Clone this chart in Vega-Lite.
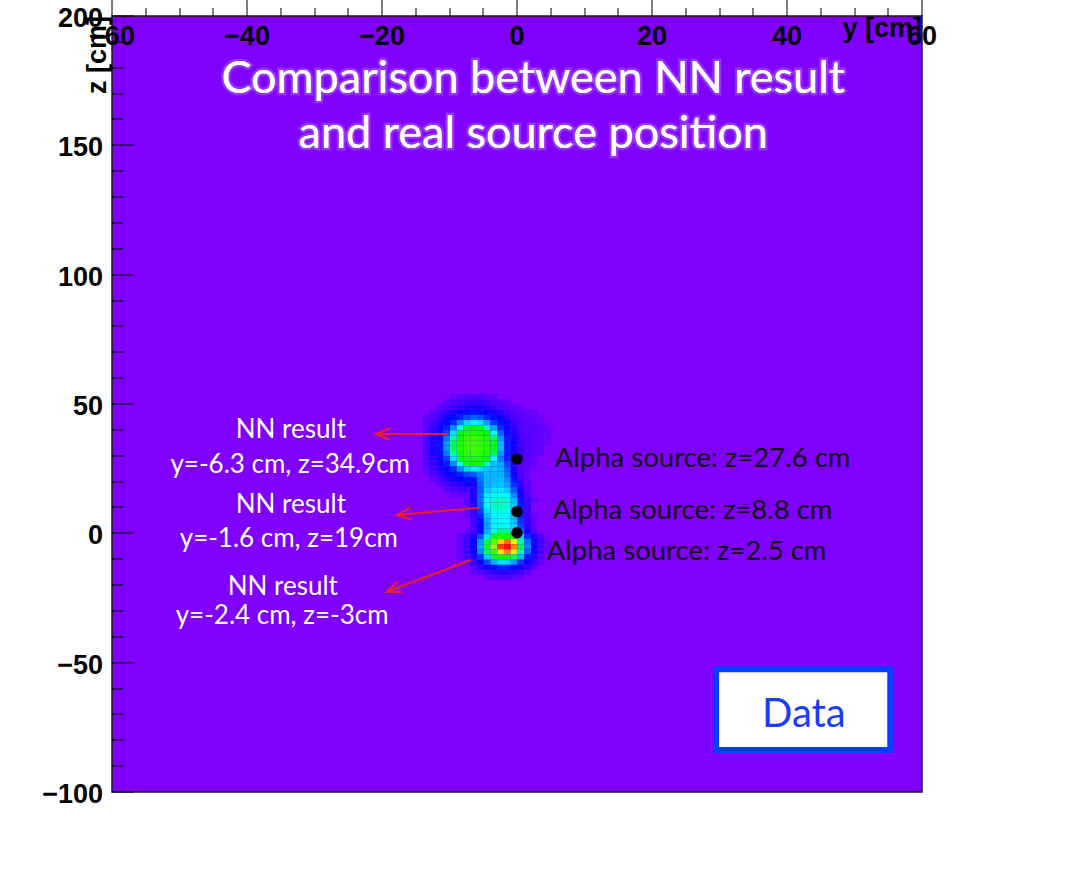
{
  "$schema": "https://vega.github.io/schema/vega-lite/v6.json",
  "width": 810,
  "height": 776,
  "autosize": {"type": "none"},
  "padding": {"left": 112, "top": 16, "right": 154, "bottom": 79},
  "background": "white",
  "config": {
    "view": {"fill": "#7f00ff", "stroke": "#1a1a1a", "strokeWidth": 1.5}
  },
  "resolve": {"axis": {"x": "independent", "y": "independent"}},
  "datasets": {
    "cells": [
      {"y":-10,"z":52,"n":130},{"y":-9,"z":52,"n":165},{"y":-8,"z":52,"n":190},{"y":-7,"z":52,"n":200},{"y":-6,"z":52,"n":195},{"y":-5,"z":52,"n":170},{"y":-4,"z":52,"n":140},
      {"y":-11,"z":50,"n":166},{"y":-10,"z":50,"n":220},{"y":-9,"z":50,"n":269},{"y":-8,"z":50,"n":323},{"y":-7,"z":50,"n":343},{"y":-6,"z":50,"n":330},{"y":-5,"z":50,"n":282},{"y":-4,"z":50,"n":229},{"y":-3,"z":50,"n":178},{"y":-2,"z":50,"n":114},
      {"y":-12,"z":48,"n":175},{"y":-11,"z":48,"n":245},{"y":-10,"z":48,"n":354},{"y":-9,"z":48,"n":440},{"y":-8,"z":48,"n":495},{"y":-7,"z":48,"n":515},{"y":-6,"z":48,"n":500},{"y":-5,"z":48,"n":453},{"y":-4,"z":48,"n":373},{"y":-3,"z":48,"n":260},{"y":-2,"z":48,"n":190},{"y":-1,"z":48,"n":130},{"y":0,"z":48,"n":115},
      {"y":-13,"z":46,"n":157},{"y":-12,"z":46,"n":243},{"y":-11,"z":46,"n":382},{"y":-10,"z":46,"n":504},{"y":-9,"z":46,"n":598},{"y":-8,"z":46,"n":660},{"y":-7,"z":46,"n":686},{"y":-6,"z":46,"n":669},{"y":-5,"z":46,"n":610},{"y":-4,"z":46,"n":525},{"y":-3,"z":46,"n":410},{"y":-2,"z":46,"n":263},{"y":-1,"z":46,"n":190},{"y":0,"z":46,"n":160},{"y":1,"z":46,"n":140},{"y":2,"z":46,"n":115},
      {"y":-14,"z":44,"n":117},{"y":-13,"z":44,"n":215},{"y":-12,"z":44,"n":355},{"y":-11,"z":44,"n":513},{"y":-10,"z":44,"n":643},{"y":-9,"z":44,"n":760},{"y":-8,"z":44,"n":920},{"y":-7,"z":44,"n":1034},{"y":-6,"z":44,"n":956},{"y":-5,"z":44,"n":777},{"y":-4,"z":44,"n":671},{"y":-3,"z":44,"n":542},{"y":-2,"z":44,"n":389},{"y":-1,"z":44,"n":240},{"y":0,"z":44,"n":190},{"y":1,"z":44,"n":160},{"y":2,"z":44,"n":135},{"y":3,"z":44,"n":110},
      {"y":-14,"z":42,"n":164},{"y":-13,"z":42,"n":278},{"y":-12,"z":42,"n":464},{"y":-11,"z":42,"n":628},{"y":-10,"z":42,"n":786},{"y":-9,"z":42,"n":1230},{"y":-8,"z":42,"n":1567},{"y":-7,"z":42,"n":1700},{"y":-6,"z":42,"n":1610},{"y":-5,"z":42,"n":1310},{"y":-4,"z":42,"n":850},{"y":-3,"z":42,"n":662},{"y":-2,"z":42,"n":499},{"y":-1,"z":42,"n":318},{"y":0,"z":42,"n":210},{"y":1,"z":42,"n":175},{"y":2,"z":42,"n":150},{"y":3,"z":42,"n":120},
      {"y":-14,"z":40,"n":202},{"y":-13,"z":40,"n":363},{"y":-12,"z":40,"n":555},{"y":-11,"z":40,"n":740},{"y":-10,"z":40,"n":1222},{"y":-9,"z":40,"n":1875},{"y":-8,"z":40,"n":2650},{"y":-7,"z":40,"n":2850},{"y":-6,"z":40,"n":2750},{"y":-5,"z":40,"n":2066},{"y":-4,"z":40,"n":1343},{"y":-3,"z":40,"n":775},{"y":-2,"z":40,"n":592},{"y":-1,"z":40,"n":404},{"y":0,"z":40,"n":230},{"y":1,"z":40,"n":190},{"y":2,"z":40,"n":160},{"y":3,"z":40,"n":130},{"y":4,"z":40,"n":110},
      {"y":-14,"z":38,"n":231},{"y":-13,"z":38,"n":426},{"y":-12,"z":38,"n":625},{"y":-11,"z":38,"n":900},{"y":-10,"z":38,"n":1630},{"y":-9,"z":38,"n":2800},{"y":-8,"z":38,"n":2950},{"y":-7,"z":38,"n":2980},{"y":-6,"z":38,"n":2950},{"y":-5,"z":38,"n":2850},{"y":-4,"z":38,"n":1830},{"y":-3,"z":38,"n":1050},{"y":-2,"z":38,"n":665},{"y":-1,"z":38,"n":467},{"y":0,"z":38,"n":253},{"y":1,"z":38,"n":200},{"y":2,"z":38,"n":165},{"y":3,"z":38,"n":135},{"y":4,"z":38,"n":110},
      {"y":-14,"z":36,"n":250},{"y":-13,"z":36,"n":470},{"y":-12,"z":36,"n":670},{"y":-11,"z":36,"n":1140},{"y":-10,"z":36,"n":2170},{"y":-9,"z":36,"n":2900},{"y":-8,"z":36,"n":3050},{"y":-7,"z":36,"n":3100},{"y":-6,"z":36,"n":3050},{"y":-5,"z":36,"n":2950},{"y":-4,"z":36,"n":2475},{"y":-3,"z":36,"n":1300},{"y":-2,"z":36,"n":720},{"y":-1,"z":36,"n":512},{"y":0,"z":36,"n":296},{"y":1,"z":36,"n":205},{"y":2,"z":36,"n":170},{"y":3,"z":36,"n":135},{"y":4,"z":36,"n":110},
      {"y":-14,"z":34,"n":271},{"y":-13,"z":34,"n":492},{"y":-12,"z":34,"n":700},{"y":-11,"z":34,"n":1271},{"y":-10,"z":34,"n":2500},{"y":-9,"z":34,"n":2980},{"y":-8,"z":34,"n":3100},{"y":-7,"z":34,"n":3100},{"y":-6,"z":34,"n":3100},{"y":-5,"z":34,"n":3000},{"y":-4,"z":34,"n":2750},{"y":-3,"z":34,"n":1434},{"y":-2,"z":34,"n":750},{"y":-1,"z":34,"n":535},{"y":0,"z":34,"n":318},{"y":1,"z":34,"n":210},{"y":2,"z":34,"n":170},{"y":3,"z":34,"n":135},{"y":4,"z":34,"n":110},
      {"y":-14,"z":32,"n":271},{"y":-13,"z":32,"n":492},{"y":-12,"z":32,"n":700},{"y":-11,"z":32,"n":1271},{"y":-10,"z":32,"n":2500},{"y":-9,"z":32,"n":2980},{"y":-8,"z":32,"n":3100},{"y":-7,"z":32,"n":3100},{"y":-6,"z":32,"n":3100},{"y":-5,"z":32,"n":3000},{"y":-4,"z":32,"n":2750},{"y":-3,"z":32,"n":1434},{"y":-2,"z":32,"n":750},{"y":-1,"z":32,"n":535},{"y":0,"z":32,"n":318},{"y":1,"z":32,"n":205},{"y":2,"z":32,"n":165},{"y":3,"z":32,"n":130},
      {"y":-14,"z":30,"n":250},{"y":-13,"z":30,"n":470},{"y":-12,"z":30,"n":670},{"y":-11,"z":30,"n":1140},{"y":-10,"z":30,"n":2170},{"y":-9,"z":30,"n":2900},{"y":-8,"z":30,"n":3050},{"y":-7,"z":30,"n":3100},{"y":-6,"z":30,"n":3050},{"y":-5,"z":30,"n":2950},{"y":-4,"z":30,"n":2475},{"y":-3,"z":30,"n":1300},{"y":-2,"z":30,"n":720},{"y":-1,"z":30,"n":512},{"y":0,"z":30,"n":296},{"y":1,"z":30,"n":195},{"y":2,"z":30,"n":155},{"y":3,"z":30,"n":120},
      {"y":-14,"z":28,"n":231},{"y":-13,"z":28,"n":426},{"y":-12,"z":28,"n":625},{"y":-11,"z":28,"n":900},{"y":-10,"z":28,"n":1630},{"y":-9,"z":28,"n":2800},{"y":-8,"z":28,"n":2950},{"y":-7,"z":28,"n":2980},{"y":-6,"z":28,"n":2950},{"y":-5,"z":28,"n":2850},{"y":-4,"z":28,"n":1830},{"y":-3,"z":28,"n":1170},{"y":-2,"z":28,"n":754},{"y":-1,"z":28,"n":467},{"y":0,"z":28,"n":253},{"y":1,"z":28,"n":180},{"y":2,"z":28,"n":140},
      {"y":-14,"z":26,"n":202},{"y":-13,"z":26,"n":363},{"y":-12,"z":26,"n":555},{"y":-11,"z":26,"n":740},{"y":-10,"z":26,"n":1222},{"y":-9,"z":26,"n":1875},{"y":-8,"z":26,"n":2650},{"y":-7,"z":26,"n":2850},{"y":-6,"z":26,"n":2750},{"y":-5,"z":26,"n":2066},{"y":-4,"z":26,"n":1500},{"y":-3,"z":26,"n":1380},{"y":-2,"z":26,"n":930},{"y":-1,"z":26,"n":435},{"y":0,"z":26,"n":230},{"y":1,"z":26,"n":160},{"y":2,"z":26,"n":120},
      {"y":-14,"z":24,"n":164},{"y":-13,"z":24,"n":278},{"y":-12,"z":24,"n":464},{"y":-11,"z":24,"n":628},{"y":-10,"z":24,"n":786},{"y":-9,"z":24,"n":1230},{"y":-8,"z":24,"n":1567},{"y":-7,"z":24,"n":1700},{"y":-6,"z":24,"n":1610},{"y":-5,"z":24,"n":1500},{"y":-4,"z":24,"n":1500},{"y":-3,"z":24,"n":1425},{"y":-2,"z":24,"n":1050},{"y":-1,"z":24,"n":495},{"y":0,"z":24,"n":210},{"y":1,"z":24,"n":130},
      {"y":-14,"z":22,"n":117},{"y":-13,"z":22,"n":215},{"y":-12,"z":22,"n":355},{"y":-11,"z":22,"n":513},{"y":-10,"z":22,"n":643},{"y":-9,"z":22,"n":760},{"y":-8,"z":22,"n":920},{"y":-7,"z":22,"n":1034},{"y":-6,"z":22,"n":1230},{"y":-5,"z":22,"n":1450},{"y":-4,"z":22,"n":1450},{"y":-3,"z":22,"n":1420},{"y":-2,"z":22,"n":1130},{"y":-1,"z":22,"n":565},{"y":0,"z":22,"n":240},{"y":1,"z":22,"n":120},
      {"y":-13,"z":20,"n":157},{"y":-12,"z":20,"n":243},{"y":-11,"z":20,"n":382},{"y":-10,"z":20,"n":504},{"y":-9,"z":20,"n":598},{"y":-8,"z":20,"n":660},{"y":-7,"z":20,"n":686},{"y":-6,"z":20,"n":1130},{"y":-5,"z":20,"n":1420},{"y":-4,"z":20,"n":1450},{"y":-3,"z":20,"n":1450},{"y":-2,"z":20,"n":1230},{"y":-1,"z":20,"n":680},{"y":0,"z":20,"n":290},{"y":1,"z":20,"n":110},
      {"y":-12,"z":18,"n":175},{"y":-11,"z":18,"n":245},{"y":-10,"z":18,"n":354},{"y":-9,"z":18,"n":440},{"y":-8,"z":18,"n":495},{"y":-7,"z":18,"n":515},{"y":-6,"z":18,"n":1050},{"y":-5,"z":18,"n":1425},{"y":-4,"z":18,"n":1500},{"y":-3,"z":18,"n":1500},{"y":-2,"z":18,"n":1328},{"y":-1,"z":18,"n":818},{"y":0,"z":18,"n":375},{"y":1,"z":18,"n":135},
      {"y":-11,"z":16,"n":166},{"y":-10,"z":16,"n":220},{"y":-9,"z":16,"n":269},{"y":-8,"z":16,"n":323},{"y":-7,"z":16,"n":479},{"y":-6,"z":16,"n":1023},{"y":-5,"z":16,"n":1518},{"y":-4,"z":16,"n":1650},{"y":-3,"z":16,"n":1650},{"y":-2,"z":16,"n":1518},{"y":-1,"z":16,"n":1023},{"y":0,"z":16,"n":479},{"y":1,"z":16,"n":198},
      {"y":-10,"z":14,"n":130},{"y":-9,"z":14,"n":165},{"y":-8,"z":14,"n":190},{"y":-7,"z":14,"n":500},{"y":-6,"z":14,"n":1073},{"y":-5,"z":14,"n":1665},{"y":-4,"z":14,"n":1850},{"y":-3,"z":14,"n":1850},{"y":-2,"z":14,"n":1730},{"y":-1,"z":14,"n":1221},{"y":0,"z":14,"n":574},{"y":1,"z":14,"n":240},
      {"y":-8,"z":12,"n":185},{"y":-7,"z":12,"n":513},{"y":-6,"z":12,"n":1117},{"y":-5,"z":12,"n":1814},{"y":-4,"z":12,"n":2050},{"y":-3,"z":12,"n":2050},{"y":-2,"z":12,"n":1948},{"y":-1,"z":12,"n":1435},{"y":0,"z":12,"n":677},{"y":1,"z":12,"n":287},{"y":2,"z":12,"n":110},
      {"y":-8,"z":10,"n":154},{"y":-7,"z":10,"n":451},{"y":-6,"z":10,"n":1046},{"y":-5,"z":10,"n":1784},{"y":-4,"z":10,"n":2050},{"y":-3,"z":10,"n":2050},{"y":-2,"z":10,"n":1968},{"y":-1,"z":10,"n":1517},{"y":0,"z":10,"n":718},{"y":1,"z":10,"n":308},
      {"y":-8,"z":8,"n":133},{"y":-7,"z":8,"n":380},{"y":-6,"z":8,"n":893},{"y":-5,"z":8,"n":1606},{"y":-4,"z":8,"n":1900},{"y":-3,"z":8,"n":1900},{"y":-2,"z":8,"n":1862},{"y":-1,"z":8,"n":1482},{"y":0,"z":8,"n":741},{"y":1,"z":8,"n":314},
      {"y":-8,"z":6,"n":108},{"y":-7,"z":6,"n":324},{"y":-6,"z":6,"n":774},{"y":-5,"z":6,"n":1476},{"y":-4,"z":6,"n":1791},{"y":-3,"z":6,"n":1800},{"y":-2,"z":6,"n":1791},{"y":-1,"z":6,"n":1476},{"y":0,"z":6,"n":774},{"y":1,"z":6,"n":324},{"y":2,"z":6,"n":108},
      {"y":-7,"z":4,"n":289},{"y":-6,"z":4,"n":683},{"y":-5,"z":4,"n":1365},{"y":-4,"z":4,"n":1715},{"y":-3,"z":4,"n":1750},{"y":-2,"z":4,"n":1750},{"y":-1,"z":4,"n":1479},{"y":0,"z":4,"n":823},{"y":1,"z":4,"n":350},{"y":2,"z":4,"n":123},
      {"y":-7,"z":2,"n":270},{"y":-6,"z":2,"n":630},{"y":-5,"z":2,"n":1332},{"y":-4,"z":2,"n":1728},{"y":-3,"z":2,"n":1850},{"y":-2,"z":2,"n":1820},{"y":-1,"z":2,"n":1566},{"y":0,"z":2,"n":918},{"y":1,"z":2,"n":396},{"y":2,"z":2,"n":135},
      {"y":-8,"z":0,"n":120},{"y":-7,"z":0,"n":280},{"y":-6,"z":0,"n":660},{"y":-5,"z":0,"n":1400},{"y":-4,"z":0,"n":1950},{"y":-3,"z":0,"n":2400},{"y":-2,"z":0,"n":2300},{"y":-1,"z":0,"n":1850},{"y":0,"z":0,"n":1100},{"y":1,"z":0,"n":500},{"y":2,"z":0,"n":180},
      {"y":-9,"z":-2,"n":162},{"y":-8,"z":-2,"n":265},{"y":-7,"z":-2,"n":509},{"y":-6,"z":-2,"n":965},{"y":-5,"z":-2,"n":1653},{"y":-4,"z":-2,"n":2743},{"y":-3,"z":-2,"n":3019},{"y":-2,"z":-2,"n":2988},{"y":-1,"z":-2,"n":2652},{"y":0,"z":-2,"n":1527},{"y":1,"z":-2,"n":814},{"y":2,"z":-2,"n":444},{"y":3,"z":-2,"n":221},
      {"y":-9,"z":-4,"n":143},{"y":-8,"z":-4,"n":321},{"y":-7,"z":-4,"n":609},{"y":-6,"z":-4,"n":1275},{"y":-5,"z":-4,"n":2576},{"y":-4,"z":-4,"n":3240},{"y":-3,"z":-4,"n":4200},{"y":-2,"z":-4,"n":4600},{"y":-1,"z":-4,"n":3900},{"y":0,"z":-4,"n":2214},{"y":1,"z":-4,"n":1113},{"y":2,"z":-4,"n":545},{"y":3,"z":-4,"n":277},{"y":4,"z":-4,"n":117},
      {"y":-9,"z":-6,"n":151},{"y":-8,"z":-6,"n":337},{"y":-7,"z":-6,"n":638},{"y":-6,"z":-6,"n":1376},{"y":-5,"z":-6,"n":2709},{"y":-4,"z":-6,"n":3480},{"y":-3,"z":-6,"n":4800},{"y":-2,"z":-6,"n":5000},{"y":-1,"z":-6,"n":4500},{"y":0,"z":-6,"n":2504},{"y":1,"z":-6,"n":1199},{"y":2,"z":-6,"n":573},{"y":3,"z":-6,"n":293},{"y":4,"z":-6,"n":125},
      {"y":-9,"z":-8,"n":139},{"y":-8,"z":-8,"n":313},{"y":-7,"z":-8,"n":595},{"y":-6,"z":-8,"n":1225},{"y":-5,"z":-8,"n":2433},{"y":-4,"z":-8,"n":3110},{"y":-3,"z":-8,"n":4100},{"y":-2,"z":-8,"n":4500},{"y":-1,"z":-8,"n":3800},{"y":0,"z":-8,"n":2071},{"y":1,"z":-8,"n":1071},{"y":2,"z":-8,"n":530},{"y":3,"z":-8,"n":269},{"y":4,"z":-8,"n":115},
      {"y":-9,"z":-10,"n":107},{"y":-8,"z":-10,"n":249},{"y":-7,"z":-10,"n":480},{"y":-6,"z":-10,"n":879},{"y":-5,"z":-10,"n":1552},{"y":-4,"z":-10,"n":2620},{"y":-3,"z":-10,"n":2896},{"y":-2,"z":-10,"n":2866},{"y":-1,"z":-10,"n":2433},{"y":0,"z":-10,"n":1426},{"y":1,"z":-10,"n":729},{"y":2,"z":-10,"n":416},{"y":3,"z":-10,"n":205},
      {"y":-8,"z":-12,"n":173},{"y":-7,"z":-12,"n":341},{"y":-6,"z":-12,"n":573},{"y":-5,"z":-12,"n":943},{"y":-4,"z":-12,"n":1375},{"y":-3,"z":-12,"n":1602},{"y":-2,"z":-12,"n":1577},{"y":-1,"z":-12,"n":1300},{"y":0,"z":-12,"n":836},{"y":1,"z":-12,"n":523},{"y":2,"z":-12,"n":305},{"y":3,"z":-12,"n":151},
      {"y":-7,"z":-14,"n":198},{"y":-6,"z":-14,"n":353},{"y":-5,"z":-14,"n":523},{"y":-4,"z":-14,"n":659},{"y":-3,"z":-14,"n":771},{"y":-2,"z":-14,"n":750},{"y":-1,"z":-14,"n":638},{"y":0,"z":-14,"n":487},{"y":1,"z":-14,"n":325},{"y":2,"z":-14,"n":181},
      {"y":-7,"z":-16,"n":107},{"y":-6,"z":-16,"n":185},{"y":-5,"z":-16,"n":285},{"y":-4,"z":-16,"n":361},{"y":-3,"z":-16,"n":397},{"y":-2,"z":-16,"n":393},{"y":-1,"z":-16,"n":349},{"y":0,"z":-16,"n":265},{"y":1,"z":-16,"n":171},
      {"y":-5,"z":-18,"n":131},{"y":-4,"z":-18,"n":169},{"y":-3,"z":-18,"n":187},{"y":-2,"z":-18,"n":185},{"y":-1,"z":-18,"n":163},{"y":0,"z":-18,"n":122}
    ],
    "nn": [{"y":-6.2,"z":36.8},{"y":-3.3,"z":12.1},{"y":-3.3,"z":-3.7}],
    "alpha": [{"y":0,"z":28.7},{"y":0,"z":8.4},{"y":0,"z":0.2}],
    "arrows": [
      {"id":1,"y1":-10.2,"z1":38.4,"y2":-20.9,"z2":38.4},
      {"id":2,"y1":-5.5,"z1":9.9,"y2":-17.8,"z2":7.1},
      {"id":3,"y1":-6.8,"z1":-10.3,"y2":-19.3,"z2":-22.6}
    ],
    "nnlabels": [
      {"y":-33.5,"z":36.7,"t":"NN result"},
      {"y":-33.6,"z":23.4,"t":"y=-6.3 cm, z=34.9cm"},
      {"y":-33.5,"z":7.7,"t":"NN result"},
      {"y":-33.8,"z":-5.4,"t":"y=-1.6 cm, z=19cm"},
      {"y":-34.7,"z":-23.9,"t":"NN result"},
      {"y":-34.8,"z":-35.2,"t":"y=-2.4 cm, z=-3cm"}
    ],
    "alphalabels": [
      {"y":5.6,"z":25.7,"t":"Alpha source: z=27.6 cm"},
      {"y":5.3,"z":5.4,"t":"Alpha source: z=8.8 cm"},
      {"y":4.4,"z":-10.5,"t":"Alpha source: z=2.5 cm"}
    ],
    "title": [
      {"y":2.4,"z":170.2,"t":"Comparison between NN result"},
      {"y":2.4,"z":148.9,"t":"and real source position"}
    ],
    "box": [{"y1":29.5,"y2":55.3,"z1":-83.8,"z2":-52.5}],
    "boxtext": [{"y":42.5,"z":-74.8,"t":"Data"}]
  },
  "layer": [
    {
      "data": {"name": "cells"},
      "mark": {"type": "rect", "binSpacing": 0},
      "encoding": {
        "x": {
          "field": "y", "type": "quantitative",
          "bin": {"binned": true, "step": 1},
          "scale": {"domain": [-60, 60], "nice": false, "zero": false},
          "axis": null
        },
        "y": {
          "field": "z", "type": "quantitative",
          "bin": {"binned": true, "step": 2},
          "scale": {"domain": [-100, 200], "nice": false, "zero": false},
          "axis": null
        },
        "fill": {
          "field": "n", "type": "quantitative",
          "scale": {
            "type": "linear", "domain": [0, 600, 1750, 2870, 3980, 5070], "nice": false, "zero": false,
            "range": ["#7f00ff", "#0000ff", "#00ffff", "#00ff00", "#ffff00", "#ff0000"],
            "interpolate": "rgb"
          },
          "legend": null
        }
      }
    },
    {
      "data": {"name": "box"},
      "mark": {"type": "rect", "fill": "white", "stroke": "#0a3cff", "strokeWidth": 6},
      "encoding": {
        "x": {
          "field": "y1", "type": "quantitative",
          "axis": {
            "orient": "bottom",
            "title": "y [cm]",
            "values": [-60,-40,-20,0,20,40,60],
            "tickSize": -22,
            "tickColor": "#000", "tickWidth": 1,
            "domain": false, "grid": false,
            "labelFont": "Liberation Sans", "labelFontSize": 27, "labelFontWeight": "bold", "labelColor": "#000",
            "labelPadding": 30, "labelFlush": false,
            "titleFont": "Liberation Sans", "titleFontSize": 27, "titleFontWeight": "bold", "titleColor": "#000",
            "titleAnchor": "end", "titlePadding": 12
          }
        },
        "x2": {"field": "y2"},
        "y": {
          "field": "z1", "type": "quantitative",
          "axis": {
            "orient": "left",
            "title": "z [cm]",
            "values": [-100,-50,0,50,100,150,200],
            "tickSize": -22,
            "tickColor": "#000", "tickWidth": 1,
            "domain": false, "grid": false,
            "labelFont": "Liberation Sans", "labelFontSize": 27, "labelFontWeight": "bold", "labelColor": "#000",
            "labelPadding": 31, "labelOffset": 3, "labelFlush": false,
            "titleFont": "Liberation Sans", "titleFontSize": 27, "titleFontWeight": "bold", "titleColor": "#000",
            "titleAnchor": "end", "titlePadding": 6
          }
        },
        "y2": {"field": "z2"}
      }
    },
    {
      "data": {"name": "boxtext"},
      "mark": {"type": "text", "font": "Lato", "fontSize": 40, "fill": "#1a3cff", "align": "center", "baseline": "alphabetic"},
      "encoding": {
        "x": {"field": "y", "type": "quantitative", "axis": null},
        "y": {"field": "z", "type": "quantitative", "axis": null},
        "text": {"field": "t"}
      }
    },
    {
      "data": {"name": "title"},
      "mark": {"type": "text", "font": "Lato", "fontSize": 45, "fill": "white", "stroke": "#d6c6ff", "strokeWidth": 5, "strokeOpacity": 0.25, "align": "center", "baseline": "alphabetic"},
      "encoding": {
        "x": {"field": "y", "type": "quantitative", "axis": null},
        "y": {"field": "z", "type": "quantitative", "axis": null},
        "text": {"field": "t"}
      }
    },
    {
      "data": {"name": "title"},
      "mark": {"type": "text", "font": "Lato", "fontSize": 45, "fill": "white", "align": "center", "baseline": "alphabetic"},
      "encoding": {
        "x": {"field": "y", "type": "quantitative", "axis": null},
        "y": {"field": "z", "type": "quantitative", "axis": null},
        "text": {"field": "t"}
      }
    },
    {
      "data": {"name": "nnlabels"},
      "mark": {"type": "text", "font": "Lato", "fontSize": 26, "fill": "white", "align": "center", "baseline": "alphabetic"},
      "encoding": {
        "x": {"field": "y", "type": "quantitative", "axis": null},
        "y": {"field": "z", "type": "quantitative", "axis": null},
        "text": {"field": "t"}
      }
    },
    {
      "data": {"name": "alphalabels"},
      "mark": {"type": "text", "font": "Lato", "fontSize": 27.5, "fill": "#111", "align": "left", "baseline": "alphabetic"},
      "encoding": {
        "x": {"field": "y", "type": "quantitative", "axis": null},
        "y": {"field": "z", "type": "quantitative", "axis": null},
        "text": {"field": "t"}
      }
    },
    {
      "data": {"name": "arrows"},
      "mark": {"type": "rule", "color": "#ee1c24", "strokeWidth": 2},
      "encoding": {
        "x": {"field": "y1", "type": "quantitative", "axis": null},
        "y": {"field": "z1", "type": "quantitative", "axis": null},
        "x2": {"field": "y2"},
        "y2": {"field": "z2"}
      }
    },
    {
      "data": {"name": "arrows"},
      "transform": [{"filter": "datum.id === 1"}],
      "mark": {"type": "point", "shape": "M1.2,-0.5L0,0L1.2,0.5", "filled": false, "stroke": "#ee1c24", "strokeWidth": 2, "size": 576, "angle": 0, "opacity": 1},
      "encoding": {
        "x": {"field": "y2", "type": "quantitative", "axis": null},
        "y": {"field": "z2", "type": "quantitative", "axis": null}
      }
    },
    {
      "data": {"name": "arrows"},
      "transform": [{"filter": "datum.id === 2"}],
      "mark": {"type": "point", "shape": "M1.2,-0.5L0,0L1.2,0.5", "filled": false, "stroke": "#ee1c24", "strokeWidth": 2, "size": 576, "angle": -5, "opacity": 1},
      "encoding": {
        "x": {"field": "y2", "type": "quantitative", "axis": null},
        "y": {"field": "z2", "type": "quantitative", "axis": null}
      }
    },
    {
      "data": {"name": "arrows"},
      "transform": [{"filter": "datum.id === 3"}],
      "mark": {"type": "point", "shape": "M1.2,-0.5L0,0L1.2,0.5", "filled": false, "stroke": "#ee1c24", "strokeWidth": 2, "size": 576, "angle": -20.7, "opacity": 1},
      "encoding": {
        "x": {"field": "y2", "type": "quantitative", "axis": null},
        "y": {"field": "z2", "type": "quantitative", "axis": null}
      }
    },
    {
      "data": {"name": "alpha"},
      "mark": {"type": "point", "shape": "circle", "filled": true, "fill": "#000", "size": 130, "opacity": 1},
      "encoding": {
        "x": {"field": "y", "type": "quantitative", "axis": null},
        "y": {"field": "z", "type": "quantitative", "axis": null}
      }
    },
    {
      "data": {"name": "nn"},
      "mark": {"type": "point", "shape": "star", "filled": true, "fill": "#ff1a1a", "size": 480, "opacity": 1},
      "encoding": {
        "x": {
          "field": "y", "type": "quantitative",
          "axis": {
            "orient": "bottom", "title": null, "labels": false, "domain": false, "grid": false,
            "values": [-55,-50,-45,-35,-30,-25,-15,-10,-5,5,10,15,25,30,35,45,50,55],
            "tickSize": -8, "tickColor": "#000", "tickWidth": 1
          }
        },
        "y": {
          "field": "z", "type": "quantitative",
          "axis": {
            "orient": "left", "title": null, "labels": false, "domain": false, "grid": false,
            "values": [-90,-80,-70,-60,-40,-30,-20,-10,10,20,30,40,60,70,80,90,110,120,130,140,160,170,180,190],
            "tickSize": -11, "tickColor": "#000", "tickWidth": 1
          }
        }
      }
    }
  ]
}
